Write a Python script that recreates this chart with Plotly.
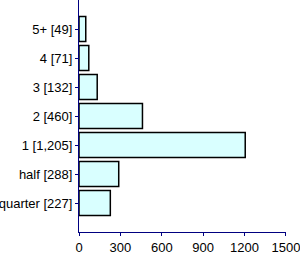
import plotly.graph_objects as go

categories = ["quarter", "half", "1", "2", "3", "4", "5+"]
counts = [227, 288, 1205, 460, 132, 71, 49]
x_ticks = [0, 300, 600, 900, 1200, 1500]

labels = [f"{c} [{v:,}]" for c, v in zip(categories, counts)]

fig = go.Figure(go.Bar(
    x=counts, y=labels, orientation="h",
    width=0.86,
    marker=dict(color="#d9ffff", line=dict(color="black", width=1.5)),
))

axis_color = "#000080"
fig.update_layout(
    width=300, height=254,
    margin=dict(l=79, r=14, t=0, b=22),
    paper_bgcolor="white", plot_bgcolor="white",
    font=dict(family="Liberation Sans, Arial, sans-serif", size=13, color="black"),
    showlegend=False,
    xaxis=dict(range=[0, 1500.5], tickvals=x_ticks, ticktext=[str(t) for t in x_ticks],
               showgrid=False, zeroline=False, showline=True, linecolor=axis_color,
               linewidth=1, ticks="outside", ticklen=3, tickcolor=axis_color,
               ticklabeloverflow="allow"),
    yaxis=dict(type="category", categoryorder="array", categoryarray=labels,
               range=[-1, 7], showgrid=False, zeroline=False, showline=True,
               linecolor=axis_color, linewidth=1, ticks="outside", ticklen=3,
               tickcolor=axis_color),
)

fig.write_html("out.html")
